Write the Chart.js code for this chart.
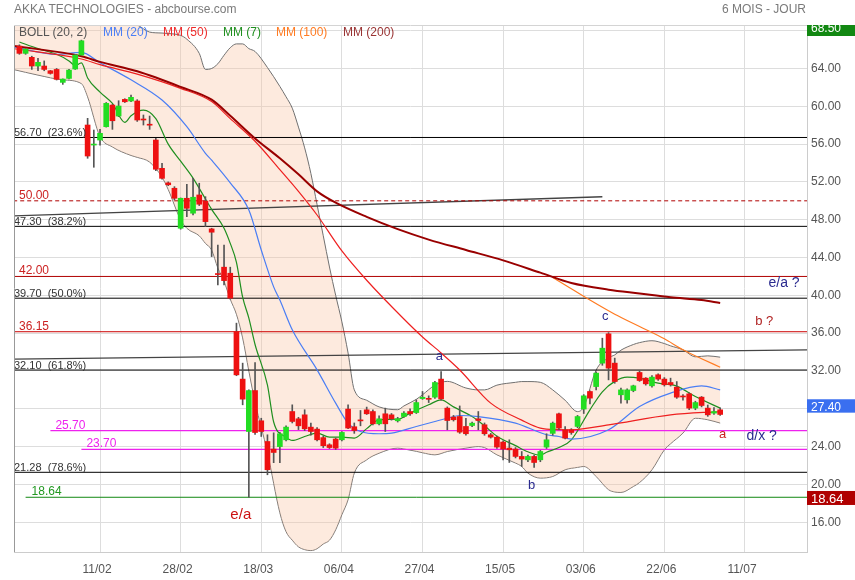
<!DOCTYPE html>
<html><head><meta charset="utf-8">
<script src="https://cdn.jsdelivr.net/npm/chart.js@4.4.0/dist/chart.umd.min.js"></script>
<style>
html,body{margin:0;padding:0;background:#fff;}
#wrap{position:relative;width:855px;height:580px;font-family:"Liberation Sans",Arial,sans-serif;overflow:hidden;}
canvas{position:absolute;left:0;top:0;}
.t{position:absolute;font-size:12px;line-height:14px;white-space:nowrap;}
</style></head><body>
<div id="wrap">
<canvas id="c" width="855" height="580"></canvas>
<div class="t" style="left:14px;top:2px;color:#7a7a7a">AKKA TECHNOLOGIES - abcbourse.com</div>
<div class="t" style="left:722px;top:2px;color:#7a7a7a">6 MOIS - JOUR</div>
<div class="t" style="left:19px;top:25px;color:#555">BOLL (20, 2)</div>
<div class="t" style="left:103px;top:25px;color:#4a7ef5">MM (20)</div>
<div class="t" style="left:163px;top:25px;color:#ee2a2a">MM (50)</div>
<div class="t" style="left:223px;top:25px;color:#1f8f1f">MM (7)</div>
<div class="t" style="left:276px;top:25px;color:#ff7b22">MM (100)</div>
<div class="t" style="left:343px;top:25px;color:#993333">MM (200)</div>
</div>
<script>
// ---- data ----
const tickIdx = [13, 26, 39, 52, 65, 78, 91, 104, 117];
const tickLabels = ['11/02','28/02','18/03','06/04','27/04','15/05','03/06','22/06','11/07'];
const yTicks = [16, 20, 24, 28, 32, 36, 40, 44, 48, 52, 56, 60, 64, 68];

const opens = [66.37,65.6,65.18,64.26,64.26,63.76,63.9,62.53,62.95,63.94,65.42,58.02,55.9,56.43,57.84,60.13,58.97,60.73,60.56,60.56,58.6,58.05,56.43,53.44,51.9,51.33,47.1,50.27,48.69,50.62,49.98,47.03,42.3,42.98,42.34,36.17,31.14,25.6,29.93,26.73,24.54,23.74,24.0,24.72,27.71,26.94,27.36,26.06,25.85,24.95,24.19,24.8,24.72,27.97,26.1,26.8,27.89,27.71,26.41,27.47,27.36,26.73,27.18,27.71,27.6,29.08,29.1,29.23,31.14,28.07,27.12,27.18,26.13,26.23,26.94,26.31,25.25,25.0,24.48,23.84,23.74,22.96,22.6,22.96,22.6,23.95,25.4,27.47,25.78,25.78,26.13,27.97,29.83,30.35,32.83,35.93,32.83,29.48,28.95,29.93,31.84,31.24,30.43,31.6,31.14,30.78,30.29,29.35,29.58,28.07,29.23,28.07,27.54,27.89];
const highs = [66.5,66.1,65.3,65.07,64.8,63.8,64.0,62.9,63.9,65.5,67.0,58.73,57.49,57.56,60.4,60.2,60.59,60.8,61.19,60.7,59.08,58.97,56.6,53.97,52.0,51.5,50.3,51.75,52.39,51.86,50.44,47.1,45.33,45.33,42.98,37.06,32.83,30.0,32.89,27.0,25.25,25.46,25.5,26.2,28.42,27.1,27.9,26.5,26.0,25.1,24.3,24.9,25.6,28.42,26.5,27.82,28.18,27.9,27.26,28.07,27.5,27.1,27.7,28.0,28.95,29.83,29.37,30.9,31.94,28.2,27.3,28.3,27.0,26.6,27.71,26.5,25.4,25.1,24.6,24.72,23.9,23.48,23.1,23.1,23.6,25.36,26.6,27.54,26.13,25.9,27.3,29.5,29.9,31.9,35.47,36.06,33.36,30.2,30.1,30.5,32.0,31.3,31.5,31.7,31.3,31.24,30.88,29.5,29.7,28.8,29.3,28.4,28.14,28.1];
const lows = [65.5,65.5,63.9,63.76,63.76,63.4,62.78,62.32,62.9,63.9,65.4,54.5,53.55,55.9,57.8,57.56,58.9,60.4,60.5,58.4,58.02,57.56,53.2,52.3,51.6,50.1,47.0,48.33,48.5,49.5,47.27,44.1,41.1,41.1,39.6,31.5,28.42,18.64,25.3,25.07,21.02,22.3,22.3,24.6,26.5,25.8,25.7,25.2,24.6,23.9,23.8,23.7,24.6,25.9,25.4,26.2,27.4,26.3,26.3,25.6,26.8,26.6,27.1,27.3,27.5,29.0,28.66,29.1,28.9,25.78,26.7,25.4,25.2,26.1,25.78,25.2,24.9,23.8,22.6,22.32,22.8,21.9,22.4,21.8,22.4,23.8,25.2,25.8,24.8,25.3,26.0,27.5,28.52,30.0,32.6,31.06,30.7,28.6,28.6,29.8,30.9,30.5,30.3,31.0,30.4,30.4,29.1,28.9,27.9,27.9,28.2,27.2,27.4,27.3];
const closes = [65.6,66.05,64.26,64.65,63.9,63.48,62.85,62.88,63.83,65.42,66.93,54.74,56.0,57.14,60.31,58.47,60.03,60.48,60.95,58.55,58.55,58.0,53.34,52.38,51.7,50.27,50.27,49.21,50.38,49.64,47.8,46.68,42.2,41.56,39.7,31.59,29.02,29.93,25.49,25.6,21.55,23.38,25.36,26.06,26.66,26.2,25.88,25.6,24.72,24.1,23.9,23.84,25.5,25.96,25.7,26.72,27.47,26.41,26.94,26.41,26.94,26.94,27.54,27.47,28.66,29.22,29.0,30.78,29.05,26.76,26.84,25.53,25.36,26.48,26.76,25.36,25.0,23.95,23.74,23.66,22.96,22.68,22.96,22.32,23.48,24.72,26.48,25.96,24.9,25.49,27.18,29.37,29.13,31.77,34.41,32.3,30.88,30.0,30.0,30.43,30.99,30.64,31.35,31.14,30.54,30.54,29.23,29.25,28.07,28.66,28.35,27.36,27.71,27.40];

// moving averages / bands (day index, value)
const mm7At = [0,3,6,8,9,10,11,13,15,17,18,20,22,24,26,28,30,31,33,34,35,36,37,38,40,41,43,44,46,48,50,52,54,56,58,61,63,66,68,70,73,75,77,80,82,84,85,87,89,92,94,96,98,100,103,106,109,113];
const mm7 = [66.8,66.1,65.5,64.8,64.3,64.6,63.0,61.5,60.3,58.3,59.0,59.6,58.7,56.0,54.2,52.4,50.2,49.1,47.1,45.5,43.5,39.8,37.6,34.8,30.5,26.6,25.0,24.65,25.07,25.43,25.0,25.0,24.9,25.9,26.84,26.9,27.54,28.42,28.95,28.2,27.18,26.2,25.1,24.1,23.45,23.1,23.4,23.9,24.72,27.89,29.8,30.9,31.35,31.24,30.71,30.4,29.3,28.07];
const mm20At = [-1,6,10,13,18,23,27,30,31,34,37,39,41,42,44,48,51,53,55,58,60,64,67,69,71,74,80,85,87,89,95,100,105,110,113];
const mm20 = [66.3,65.5,65.7,64.6,62.8,60.66,57.84,55.03,54.3,51.9,49.03,44.8,40.9,39.5,36.35,32.12,28.6,26.49,25.6,25.36,25.43,26.13,26.66,27.0,27.29,27.18,26.49,25.25,25.07,24.8,25.78,28.24,29.66,30.43,30.0];
const mm50At = [-1,10,13,19,26,31,34,38,42,45,48,52,56,62,65,68,71,76,81,84,87,89,95,105,113];
const mm50 = [66.1,65.0,64.4,63.4,61.9,60.5,58.7,56.3,53.3,51.0,48.5,44.7,41.6,37.5,35.6,33.9,32.1,28.6,26.8,25.96,25.8,25.78,26.3,27.36,27.71];
const mm100At = [86,88,92,96,100,104,107,110,113];
const mm100 = [41.9,41.1,39.5,38.0,36.7,35.4,34.24,33.3,32.4];
const mm200At = [-1,10,13,19,26,31,34,38,42,45,48,51,56,61,66,72,78,84,89,95,100,105,110,113];
const mm200 = [66.4,65.3,64.7,63.7,62.05,60.7,59.0,56.6,54.5,52.8,51.0,49.8,48.3,47.0,45.9,44.8,43.7,42.4,41.3,40.6,40.2,39.8,39.5,39.2];
const bollAt = [-1,3,7,10,11,13,15,18,19,21,23,24,26,27,29,30,31,32,33,34,35,36,37,38,40,42,43,44,45,46,47,48,49,50,51,52,53,54,56,58,61,62,64,65,67,69,72,74,75,77,80,81,82,84,86,88,90,91,93,95,96,97,99,100,102,104,105,107,109,111,113];
const bollUp = [71.0,70.6,70.1,69.7,69.6,69.3,69.0,68.7,68.6,67.85,67.75,67.7,67.5,67.1,65.6,63.9,64.0,64.5,65.4,66.2,66.6,66.6,66.1,65.8,64.1,62.1,61.0,59.8,57.8,55.6,52.9,49.6,46.3,43.0,40.0,37.2,33.9,30.0,28.9,28.2,27.9,28.3,29.0,29.48,30.5,30.9,30.2,30.0,30.0,30.5,30.8,30.88,30.88,30.8,30.0,28.9,27.7,28.2,32.1,33.4,33.7,34.2,34.8,35.0,35.2,34.9,34.66,34.24,33.5,33.6,33.46];
const bollLow = [63.9,63.3,62.8,62.4,61.0,56.8,55.7,54.8,54.6,54.1,52.5,51.2,48.0,47.1,46.3,45.5,44.8,42.9,41.5,39.6,38.0,35.5,32.0,28.7,23.4,17.0,15.0,14.1,13.4,13.1,13.0,13.2,13.7,14.1,15.2,16.8,18.4,21.2,22.6,23.3,23.84,23.75,23.5,23.35,23.13,23.48,23.84,24.0,23.9,23.13,22.26,21.9,21.2,20.67,20.84,21.55,21.8,21.9,20.84,19.44,19.2,19.15,19.78,20.2,21.55,23.66,24.3,25.43,27.0,26.84,26.49];

// drawn levels
const fibLevels = [56.70, 47.30, 39.70, 32.10, 21.28];
const fibPct = ['23.6%', '38.2%', '50.0%', '61.8%', '78.6%'];
const redLevels = [50.00, 42.00, 36.15];
const pinkLevels = [25.70, 23.70];
const pinkFrom = [5, 10];
const greenLevel = 18.64;
const greenFrom = 1;
const trendFrom = [-1, -1];
const trendTo = [94, 127];
const trendFromVal = [48.4, 33.25];
const trendToVal = [50.43, 34.24];

const annoText = ['e/a', 'a', 'b', 'c', 'e/a ?', 'b ?', 'a', 'd/x ?'];
const annoIdx = [35.7, 67.7, 82.6, 94.45, 123.3, 120.1, 113.4, 119.7];
const annoVal = [16.77, 33.51, 19.94, 37.74, 41.34, 37.21, 25.33, 25.12];
const annoColor = ['#cc1111', '#2b2b8f', '#2b2b8f', '#2b2b8f', '#2b2b8f', '#b02222', '#cc2222', '#2b2b8f'];
const annoSize = [15, 13, 13, 13, 14, 13, 13, 14];

const maxHigh = 68.50;
const lastClose = 27.40;
const minLow = 18.64;

// ---- build ----
const FONT = '"Liberation Sans", Arial, sans-serif';
const X_MAX = 127;
const days = opens.map((_, i) => i);
const series = (at, vals) => at.map((d, k) => ({x: d, y: vals[k]}));
const isUp = i => closes[i] >= opens[i];

function lineDs(data, color, width, order, extra) {
  return Object.assign({type: 'line', data, borderColor: color, borderWidth: width, pointRadius: 0,
    pointHoverRadius: 0, cubicInterpolationMode: 'monotone', fill: false, order}, extra || {});
}
const flat = (from, to, v) => [{x: from, y: v}, {x: to, y: v}];

const datasets = [
  lineDs(series(bollAt, bollUp), '#707070', 1, 20, {fill: '+1', backgroundColor: 'rgba(250,195,160,0.35)'}),
  lineDs(series(bollAt, bollLow), '#707070', 1, 20),
];
fibLevels.forEach(v => datasets.push(lineDs(flat(-1, X_MAX, v), '#000000', 1, 12, {cubicInterpolationMode: 'default', tension: 0})));
redLevels.forEach((v, k) => datasets.push(lineDs(flat(-1, X_MAX, v), k === 2 ? '#cc0000' : '#b00000', 1, 12,
  {tension: 0, cubicInterpolationMode: 'default', borderDash: k === 0 ? [4, 3] : []})));
pinkLevels.forEach((v, k) => datasets.push(lineDs(flat(pinkFrom[k], X_MAX, v), '#ee22ee', 1.2, 12, {tension: 0, cubicInterpolationMode: 'default'})));
datasets.push(lineDs(flat(greenFrom, X_MAX, greenLevel), '#118811', 1, 12, {tension: 0, cubicInterpolationMode: 'default'}));
trendFrom.forEach((f, k) => datasets.push(lineDs([{x: f, y: trendFromVal[k]}, {x: trendTo[k], y: trendToVal[k]}], '#444444', 1.3, 12, {tension: 0, cubicInterpolationMode: 'default'})));

datasets.push(lineDs(series(mm200At, mm200), '#990000', 2, 6));
datasets.push(lineDs(series(mm100At, mm100), '#ff7b22', 1.2, 6));
datasets.push(lineDs(series(mm50At, mm50), '#ee2020', 1.2, 6));
datasets.push(lineDs(series(mm20At, mm20), '#4a7ef5', 1.2, 6));
datasets.push(lineDs(series(mm7At, mm7), '#1f8f1f', 1.2, 6));

datasets.push({type: 'bar', data: days.map(i => ({x: i, y: [lows[i], highs[i]]})), backgroundColor: '#555555',
  barThickness: 1, grouped: false, order: 2, minBarLength: 1});
datasets.push({type: 'bar', data: days.map(i => ({x: i, y: [opens[i], closes[i]]})),
  backgroundColor: days.map(i => isUp(i) ? '#22dd22' : '#ee1111'),
  borderWidth: 0, barThickness: 5, grouped: false, order: 1, minBarLength: 1});

const overlay = {
  id: 'overlay',
  afterDatasetsDraw(chart) {
    const {ctx, chartArea: a, scales: {x, y}} = chart;
    ctx.save();
    ctx.beginPath(); ctx.rect(a.left, a.top, a.right - a.left, a.bottom - a.top); ctx.clip();
    ctx.textBaseline = 'alphabetic'; ctx.textAlign = 'left';
    ctx.font = '11px ' + FONT; ctx.fillStyle = '#333333';
    fibLevels.forEach((v, k) => ctx.fillText(v.toFixed(2) + '  (' + fibPct[k] + ')', a.left, y.getPixelForValue(v) - 1));
    ctx.font = '12px ' + FONT;
    redLevels.forEach(v => { ctx.fillStyle = '#cc2222'; ctx.fillText(v.toFixed(2), a.left + 5, y.getPixelForValue(v) - 2); });
    pinkLevels.forEach((v, k) => { ctx.fillStyle = '#ee22ee'; ctx.fillText(v.toFixed(2), x.getPixelForValue(pinkFrom[k]) + 5, y.getPixelForValue(v) - 2); });
    ctx.fillStyle = '#229922'; ctx.fillText(greenLevel.toFixed(2), x.getPixelForValue(greenFrom) + 6, y.getPixelForValue(greenLevel) - 2);
    ctx.textAlign = 'center'; ctx.textBaseline = 'middle';
    annoText.forEach((t, k) => {
      ctx.font = annoSize[k] + 'px ' + FONT; ctx.fillStyle = annoColor[k];
      ctx.fillText(t, x.getPixelForValue(annoIdx[k]), y.getPixelForValue(annoVal[k]));
    });
    ctx.restore();
  },
  afterDraw(chart) {
    const {ctx, chartArea: a, scales: {y}} = chart;
    ctx.save();
    ctx.strokeStyle = '#999999'; ctx.lineWidth = 1;
    ctx.beginPath(); ctx.moveTo(a.left + 0.5, a.top); ctx.lineTo(a.left + 0.5, a.bottom); ctx.stroke();
    ctx.strokeStyle = '#d4d4d4';
    ctx.beginPath(); ctx.moveTo(a.left, a.top + 0.5); ctx.lineTo(a.right, a.top + 0.5); ctx.stroke();
    const box = (val, dy, h, bg, fs, base) => {
      const py = y.getPixelForValue(val);
      const top = Math.max(a.top, py + dy);
      ctx.fillStyle = bg; ctx.fillRect(a.right, top, 855 - a.right, h);
      ctx.save(); ctx.beginPath(); ctx.rect(a.right, top, 855 - a.right, h); ctx.clip();
      ctx.fillStyle = '#ffffff'; ctx.font = fs + 'px ' + FONT; ctx.textAlign = 'left'; ctx.textBaseline = 'alphabetic';
      ctx.fillText(val.toFixed(2), a.right + 4, top + base);
      ctx.restore();
    };
    box(maxHigh, -6, 11, '#128812', 12, 6.7);
    box(lastClose, -15.2, 13.4, '#3a6ff0', 12, 11.9);
    box(minLow, -6.3, 14, '#b00000', 13, 12);
    ctx.restore();
  }
};

new Chart(document.getElementById('c'), {
  type: 'bar',
  data: {datasets},
  options: {
    responsive: false, animation: false, devicePixelRatio: 1,
    layout: {padding: {left: 14, top: 25, right: 0, bottom: 0}},
    plugins: {legend: {display: false}, tooltip: {enabled: false}, title: {display: false}},
    scales: {
      x: {type: 'linear', min: -0.87, max: X_MAX, offset: false,
        grid: {color: '#dddddd', offset: false, drawTicks: false},
        border: {color: '#cccccc'},
        afterBuildTicks: s => { s.ticks = tickIdx.map(v => ({value: v})); },
        afterFit: s => { s.height = 28; },
        ticks: {callback: v => { const k = tickIdx.indexOf(v); return k >= 0 ? tickLabels[k] : ''; },
          color: '#555555', font: {family: FONT, size: 12}, padding: 10, maxRotation: 0, autoSkip: false, labelOffset: -3}
      },
      y: {type: 'linear', position: 'right', min: 12.85, max: 68.6, beginAtZero: false,
        grid: {color: '#dddddd', drawTicks: false},
        border: {color: '#cccccc'},
        afterBuildTicks: s => { s.ticks = yTicks.map(v => ({value: v})); },
        afterFit: s => { s.width = 48; },
        ticks: {callback: v => v > 64 ? '' : Number(v).toFixed(2), color: '#555555', font: {family: FONT, size: 12}, padding: 4}
      }
    }
  },
  plugins: [overlay]
});
</script>
</body></html>
